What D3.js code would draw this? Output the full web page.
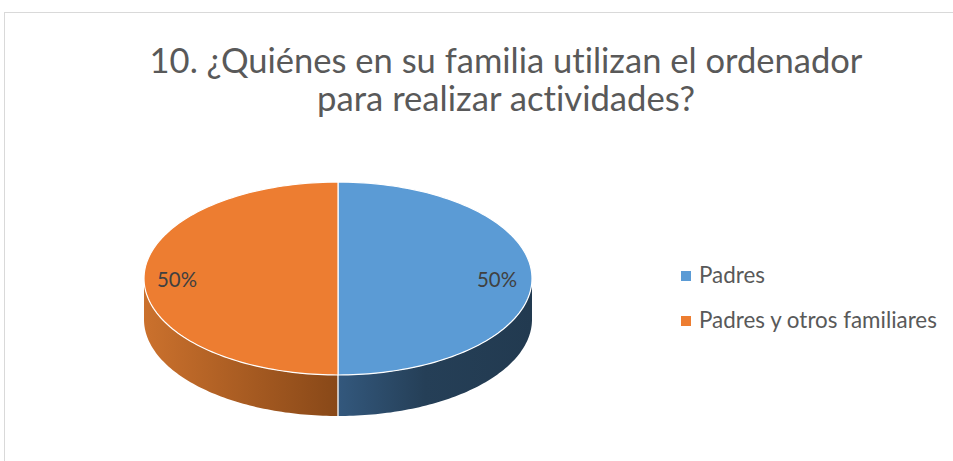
<!DOCTYPE html>
<html><head><meta charset="utf-8">
<script src="https://cdn.jsdelivr.net/npm/d3@7"></script>
<style>html,body{margin:0;padding:0;background:#fff;overflow:hidden}svg{display:block}text{font-variant-ligatures:none;font-feature-settings:"liga" 0}</style>
</head><body>
<svg id="c" width="953" height="461"></svg>
<script>
const titleLines = ["10. ¿Quiénes en su familia utilizan el ordenador", "para realizar actividades?"];
const categories = ["Padres", "Padres y otros familiares"];
const values = [50, 50];
const labels = ["50%", "50%"];
const topColors = ["#5B9BD5", "#ED7D31"];
const sideLight = ["#33587d", "#cb712d"];
const sideDark = ["#223a50", "#884818"];

const svg = d3.select("#c");
const W = 953, H = 461;
const FONT = "Lato, Carlito, 'Open Sans', sans-serif";

// border
svg.append("rect").attr("x", 4.5).attr("y", 12.5).attr("width", W + 10).attr("height", H + 10)
  .attr("fill", "#fff").attr("stroke", "#d9d9d9").attr("stroke-width", 1);

function fitText(sel, target) {
  const n = sel.node();
  const w = n.getComputedTextLength();
  const fs = parseFloat(sel.attr("font-size"));
  const nf = fs * target / w;
  sel.attr("font-size", nf.toFixed(2));
  return nf;
}

// title
const tWidths = [713, 378];
const tY = [73, 111];
titleLines.forEach((t, i) => {
  const s = svg.append("text").attr("x", 506).attr("y", tY[i]).attr("text-anchor", "middle")
    .attr("font-family", FONT).attr("font-size", 32).attr("fill", "#595959").text(t);
  fitText(s, tWidths[i]);
});

// 3D pie geometry
const cx = 338, cy = 278.5, rx = 194, ry = 96.5, depth = 41;
const pie = d3.pie().sort(null).value(d => d)(values);
const px = a => cx + rx * Math.sin(a);
const py = a => cy - ry * Math.cos(a);

const defs = svg.append("defs");
pie.forEach((p, i) => {
  const g = defs.append("linearGradient").attr("id", "side" + i)
    .attr("gradientUnits", "userSpaceOnUse")
    .attr("x1", i === 0 ? cx : cx - rx).attr("x2", i === 0 ? cx + rx : cx)
    .attr("y1", 0).attr("y2", 0);
  if (i === 0) {
    g.append("stop").attr("offset", 0).attr("stop-color", sideLight[0]);
    g.append("stop").attr("offset", 0.45).attr("stop-color", "#253f57");
    g.append("stop").attr("offset", 1).attr("stop-color", sideDark[0]);
  } else {
    g.append("stop").attr("offset", 0).attr("stop-color", sideLight[1]);
    g.append("stop").attr("offset", 1).attr("stop-color", sideDark[1]);
  }
});

function arcPoints(a0, a1, n, dy) {
  const pts = [];
  for (let k = 0; k <= n; k++) {
    const a = a0 + (a1 - a0) * k / n;
    pts.push([px(a), py(a) + dy]);
  }
  return pts;
}

// sides (front half only)
pie.forEach((p, i) => {
  const a0 = Math.max(p.startAngle, Math.PI / 2);
  const a1 = Math.min(p.endAngle, 3 * Math.PI / 2);
  if (a1 <= a0) return;
  const top = arcPoints(a0, a1, 80, 0);
  const bot = arcPoints(a0, a1, 80, depth).reverse();
  svg.append("path").attr("d", d3.line()(top.concat(bot)) + "Z")
    .attr("fill", `url(#side${i})`).attr("stroke", "none");
});
svg.append("line").attr("x1", px(Math.PI)).attr("x2", px(Math.PI))
  .attr("y1", py(Math.PI)).attr("y2", py(Math.PI) + depth)
  .attr("stroke", "#e8e8e8").attr("stroke-width", 1.5);

// tops
pie.forEach((p, i) => {
  const pts = [[cx, cy]].concat(arcPoints(p.startAngle, p.endAngle, 120, 0));
  svg.append("path").attr("d", d3.line()(pts) + "Z")
    .attr("fill", topColors[i]).attr("stroke", "#ffffff").attr("stroke-width", 1.2)
    .attr("stroke-linejoin", "round");
});

// data labels
const labelPos = [[517, 287, "end"], [157, 287, "start"]];
labels.forEach((t, i) => {
  const s = svg.append("text").attr("x", labelPos[i][0]).attr("y", labelPos[i][1])
    .attr("text-anchor", labelPos[i][2]).attr("font-family", FONT).attr("font-size", 19)
    .attr("fill", "#404040").text(t);
  fitText(s, 40);
});

// legend
const ly = d3.scalePoint().domain(categories).range([276, 321]);
const leg = svg.append("g");
const probe = svg.append("text").attr("font-family", FONT).attr("font-size", 19).text(categories[1]);
const legFs = fitText(probe, 238);
probe.remove();
categories.forEach((c, i) => {
  leg.append("rect").attr("x", 681).attr("y", ly(c) - 5).attr("width", 10).attr("height", 10)
    .attr("fill", topColors[i]);
  leg.append("text").attr("x", 699).attr("y", ly(c) + 7)
    .attr("font-family", FONT).attr("font-size", legFs.toFixed(2)).attr("fill", "#595959").text(c);
});
</script>
</body></html>
